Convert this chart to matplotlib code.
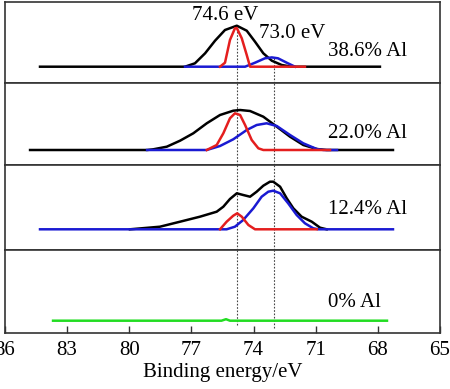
import matplotlib
matplotlib.use('Agg')
import matplotlib.pyplot as plt

plt.rcParams['font.family'] = ['Liberation Serif', 'DejaVu Serif']

## peak positions marked by the dotted lines (eV)
peak_lines = [74.8, 73.0]
peak_names = ['74.6 eV', '73.0 eV']

## 38.6% Al
e1_tot = [84.31, 77.31, 76.83, 76.34, 75.86, 75.38, 74.81, 74.33, 73.93, 73.53, 73.12, 72.64, 72.16, 67.90]
i1_tot = [0, 0, 3.4, 13.4, 26, 36.7, 41, 36, 25, 13.4, 6, 1.7, 0, 0]
e1_red = [75.62, 75.38, 75.14, 74.90, 74.81, 74.57, 74.33, 74.17, 71.52]
i1_red = [0, 4, 26.7, 38.4, 38.7, 28.4, 11.7, 0, 0]
e1_blue = [77.31, 74.41, 73.93, 73.45, 73.12, 72.82, 72.40, 72.00]
i1_blue = [0, 0, 4, 8.4, 9.3, 8.4, 4, 0]

## 22.0% Al
e2_tot = [84.79, 79.14, 78.84, 78.19, 77.55, 76.91, 76.26, 75.62, 74.98, 74.65, 74.17, 73.53,
          72.88, 72.24, 71.60, 70.95, 70.47, 67.27]
i2_tot = [0, 0, 0.7, 3.3, 9.3, 16.7, 26.7, 35, 39.3, 40, 39, 33.3,
          23.3, 13.3, 5, 1, 0, 0]
e2_red = [76.26, 75.78, 75.46, 75.14, 74.90, 74.65, 74.41, 74.09, 73.77, 73.53, 70.31]
i2_red = [0, 5, 16.7, 31.7, 36.7, 35, 25, 10, 1.7, 0, 0]
e2_blue = [79.14, 76.26, 75.62, 74.98, 74.33, 73.85, 73.37, 72.88, 72.24, 71.60, 70.95, 70.63, 69.97]
i2_blue = [0, 0, 4, 10.7, 20, 25, 26.7, 24, 15, 6.7, 1, 0, 0]

## 12.4% Al
e3_tot = [79.97, 78.52, 77.55, 76.59, 75.78, 75.46, 75.14, 74.81, 74.50, 74.17, 73.85, 73.53, 73.21,
          73.05, 72.72, 72.40, 72.08, 71.68, 71.19, 70.79, 70.47]
i3_tot = [0, 2.6, 7.6, 12.6, 17.6, 22.6, 30.3, 36, 34.3, 32.6, 37.6, 43.6, 47.6,
          47.6, 42.6, 31, 21, 12.6, 7.6, 1.6, 0]
e3_red = [75.62, 75.30, 74.98, 74.79, 74.57, 74.25, 73.93, 70.95]
i3_red = [0, 7.6, 13.6, 16, 12.6, 4.3, 0, 0]
e3_blue = [84.31, 75.30, 74.90, 74.50, 74.01, 73.61, 73.29, 73.05, 72.72, 72.33, 71.92, 71.52,
           71.12, 70.87, 67.27]
i3_blue = [0, 0, 2.6, 9.3, 21, 32.6, 37.6, 38.6, 36, 26, 14.3, 6,
           1, 0, 0]

## 0% Al
e4 = [83.68, 75.55, 75.33, 75.14, 67.56]
i4 = [0, 0, 1.5, 0, 0]

labels = ['38.6% Al', '22.0% Al', '12.4% Al', '0% Al']
label_y = [14.7, 17, 19.3, 17.7]
ylims = [(-16.3, 64.7), (-15, 67), (-20.7, 64.3), (-12.3, 70.7)]

fig = plt.figure(figsize=(4.5, 3.89), dpi=100)
gs = fig.add_gridspec(4, 1, height_ratios=[81, 82, 85, 83], hspace=0,
                      left=5/450, right=440/450, top=1-2/389, bottom=1-333/389)
axes = [fig.add_subplot(gs[i]) for i in range(4)]

red = '#e41e1e'
blue = '#1a1ad2'
green = '#22dd22'
lw = 1.8
fs = 15

series = [
    (e1_tot, i1_tot, e1_red, i1_red, e1_blue, i1_blue),
    (e2_tot, i2_tot, e2_red, i2_red, e2_blue, i2_blue),
    (e3_tot, i3_tot, e3_red, i3_red, e3_blue, i3_blue),
]

for k, ax in enumerate(axes):
    if k < 3:
        et, it, er, ir, eb, ib = series[k]
        ax.plot(et, it, color='black', lw=lw, zorder=2, solid_joinstyle='round')
        ax.plot(eb, ib, color=blue, lw=lw, zorder=3, solid_joinstyle='round')
        ax.plot(er, ir, color=red, lw=lw, zorder=4, solid_joinstyle='round')
    else:
        ax.plot(e4, i4, color=green, lw=lw, zorder=3)
    ax.set_xlim(86, 65)
    ax.set_ylim(*ylims[k])
    ax.set_yticks([])
    ax.text(70.4, label_y[k], labels[k], fontsize=fs, ha='left', va='center')
    for s in ax.spines.values():
        s.set_color('#333333')
        s.set_linewidth(1.2)
    if k < 3:
        ax.tick_params(axis='x', bottom=False, labelbottom=False)

# dotted guide lines
dot = dict(colors='#444444', linestyles=(0, (1.5, 1.5)), linewidth=0.8, zorder=1)
axes[0].vlines(peak_lines[0], -16.3, 38.7, **dot)
axes[0].vlines(peak_lines[1], -16.3, 8.7, **dot)
for ax in axes[1:3]:
    ax.vlines(peak_lines, ax.get_ylim()[0], ax.get_ylim()[1], **dot)
axes[3].vlines(peak_lines[0], -4.3, 70.7, **dot)
axes[3].vlines(peak_lines[1], -7.3, 70.7, **dot)

axes[0].text(75.35, 51.7, peak_names[0], fontsize=fs, ha='center', va='center')
axes[0].text(72.15, 33.7, peak_names[1], fontsize=fs, ha='center', va='center')

axes[3].set_xticks([86, 83, 80, 77, 74, 71, 68, 65])
axes[3].tick_params(axis='x', direction='in', length=5, width=1, color='#333333',
                    labelsize=fs, pad=6)
axes[3].set_xlabel('Binding energy/eV', fontsize=fs, labelpad=2)

plt.savefig('out.png', dpi=100)
